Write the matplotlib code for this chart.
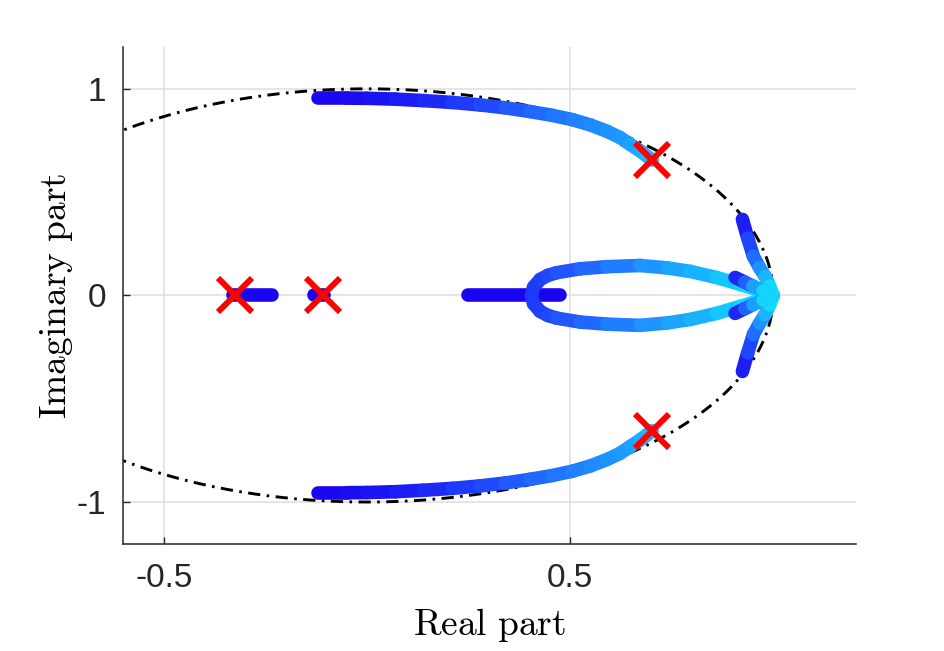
import numpy as np
import matplotlib
matplotlib.use("Agg")
import matplotlib.pyplot as plt
from matplotlib.collections import LineCollection
from matplotlib.colors import LinearSegmentedColormap

# ---------------- data ----------------
pole_re = [-0.325, -0.108, 0.702, 0.702]
pole_im = [0.0, 0.0, 0.655, -0.655]

# upper complex branch (lower one is its conjugate)
upper_re = [-0.121, -0.05, 0.00, 0.07, 0.138, 0.21, 0.278, 0.34, 0.401, 0.455,
            0.505, 0.55, 0.591, 0.622, 0.648, 0.672, 0.690, 0.702]
upper_im = [0.955, 0.955, 0.954, 0.950, 0.943, 0.934, 0.922, 0.908, 0.890, 0.872,
            0.851, 0.825, 0.794, 0.765, 0.731, 0.700, 0.673, 0.655]
upper_c = [0.00, 0.02, 0.04, 0.08, 0.12, 0.18, 0.25, 0.31, 0.38, 0.43,
           0.48, 0.52, 0.56, 0.59, 0.62, 0.67, 0.72, 0.78]

# inner loop (upper half; lower half is its conjugate)
loop_re = [0.405, 0.41, 0.426, 0.445, 0.467, 0.525, 0.590, 0.672, 0.74, 0.796, 0.86, 0.919, 0.96, 1.0]
loop_im = [0.0, 0.04, 0.077, 0.097, 0.110, 0.129, 0.139, 0.145, 0.133, 0.116, 0.087, 0.053, 0.028, 0.0]
loop_c = [0.20, 0.21, 0.23, 0.26, 0.29, 0.36, 0.44, 0.54, 0.62, 0.68, 0.76, 0.85, 0.92, 1.0]

# real-axis segments
real_segs = [(-0.330, -0.234), (-0.131, -0.106), (0.249, 0.475)]

# branches ending at (1, 0)
long_re = [0.924, 0.937, 0.951, 0.966, 0.980, 0.991, 1.0]
long_im = [0.368, 0.278, 0.189, 0.135, 0.092, 0.045, 0.0]
long_c = [0.03, 0.18, 0.35, 0.50, 0.65, 0.82, 1.0]

short_re = [0.906, 0.93, 0.95, 0.975, 1.0]
short_im = [0.087, 0.064, 0.045, 0.022, 0.0]
short_c = [0.03, 0.25, 0.50, 0.75, 1.0]

xticks = [-0.5, 0.5]
yticks = [-1, 0, 1]

# ---------------- styling ----------------
plt.rcParams['font.family'] = ['Liberation Sans', 'DejaVu Sans']
plt.rcParams['mathtext.fontset'] = 'cm'

cmap = LinearSegmentedColormap.from_list(
    "locus",
    [(0.0, (0.10, 0.02, 0.94)),
     (0.35, (0.13, 0.36, 1.0)),
     (0.62, (0.11, 0.62, 1.0)),
     (1.0, (0.05, 0.93, 1.0))])

fig = plt.figure(figsize=(9.45, 6.51), dpi=100)
ax = fig.add_axes([0.130, 0.1644, 0.776, 0.7636])

LW = 9.8


def draw_branch(re, im, c):
    pts = np.column_stack([re, im])
    segs = np.stack([pts[:-1], pts[1:]], axis=1)
    cc = np.array(c)
    lc = LineCollection(segs, colors=cmap(0.5 * (cc[:-1] + cc[1:])),
                        linewidths=LW, capstyle='round', joinstyle='round', zorder=3)
    ax.add_collection(lc)


# unit circle (beneath the branches)
th = np.linspace(0, 2 * np.pi, 721)
ax.plot(np.cos(th), np.sin(th), color='black', lw=2.1,
        linestyle=(0, (4.2, 2.2, 0.9, 2.2)), zorder=2)

# real-axis segments (dark blue)
for a, b in real_segs:
    ax.plot([a, b], [0, 0], color=cmap(0.0), lw=LW, solid_capstyle='round', zorder=3)

draw_branch(upper_re, upper_im, upper_c)
draw_branch(upper_re, -np.array(upper_im), upper_c)
draw_branch(loop_re, loop_im, loop_c)
draw_branch(loop_re, -np.array(loop_im), loop_c)
draw_branch(long_re, long_im, long_c)
draw_branch(long_re, -np.array(long_im), long_c)
draw_branch(short_re, short_im, short_c)
draw_branch(short_re, -np.array(short_im), short_c)

# poles
ax.plot(pole_re, pole_im, linestyle='none', marker='x', ms=25, mew=4.3,
        color=(1, 0, 0), zorder=5)

ax.set_xlim(-0.601, 1.204)
ax.set_ylim(-1.203, 1.203)
ax.set_xticks(xticks)
ax.set_xticklabels(['-0.5', '0.5'])
ax.set_yticks(yticks)
ax.set_yticklabels(['-1', '0', '1'])
ax.grid(True, color=(0.87, 0.87, 0.87), lw=1.1, zorder=0)
ax.set_axisbelow(True)

for s in ['top', 'right']:
    ax.spines[s].set_visible(False)
for s in ['left', 'bottom']:
    ax.spines[s].set_color((0.15, 0.15, 0.15))
    ax.spines[s].set_linewidth(1.1)

ax.tick_params(direction='in', length=5, width=1.0, color=(0.15, 0.15, 0.15),
               labelsize=24, labelcolor=(0.15, 0.15, 0.15))
ax.tick_params(axis='x', pad=14)
ax.tick_params(axis='y', pad=12)

ax.set_xlabel(r'$\mathrm{Real\ part}$', fontsize=27, labelpad=8)
ax.set_ylabel(r'$\mathrm{Imaginary\ part}$', fontsize=27, labelpad=1)

fig.savefig("out.png", dpi=100)
